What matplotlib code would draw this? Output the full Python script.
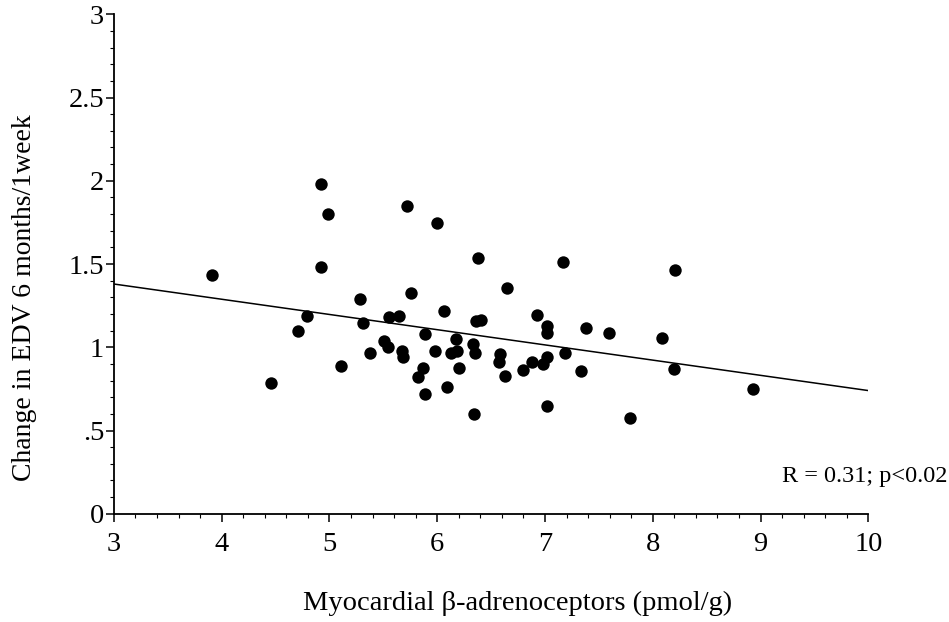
import matplotlib
matplotlib.use("Agg")
import matplotlib.pyplot as plt
from matplotlib.ticker import MultipleLocator, FixedLocator

plt.rcParams['font.family'] = ['Liberation Serif', 'DejaVu Serif']

# Data
receptors = [3.91, 4.92, 4.99, 5.72, 6.00, 6.38, 4.92, 5.28, 5.76, 6.06,
             4.79, 4.71, 5.31, 5.55, 5.65, 6.36, 6.41, 5.89, 6.17, 6.33,
             6.35, 5.51, 5.54, 5.38, 5.67, 5.68, 5.98, 6.13, 6.18, 5.11,
             5.87, 6.20, 5.82, 6.09, 5.89, 4.46, 6.34, 7.17, 8.21, 6.65,
             6.93, 7.02, 7.02, 7.38, 7.59, 8.09, 6.58, 6.57, 6.88, 7.02,
             6.98, 7.19, 6.80, 6.63, 7.33, 8.20, 7.02, 7.79, 8.93]
edv_change = [1.432, 1.978, 1.80, 1.846, 1.746, 1.536, 1.48, 1.288, 1.326, 1.218,
              1.188, 1.098, 1.144, 1.18, 1.186, 1.155, 1.165, 1.078, 1.052, 1.018,
              0.968, 1.038, 1.004, 0.968, 0.978, 0.942, 0.976, 0.968, 0.976, 0.89,
              0.874, 0.874, 0.82, 0.764, 0.718, 0.788, 0.60, 1.514, 1.466, 1.356,
              1.194, 1.128, 1.084, 1.116, 1.084, 1.056, 0.962, 0.912, 0.914, 0.94,
              0.898, 0.968, 0.866, 0.828, 0.86, 0.868, 0.648, 0.578, 0.75]

fit_x = [3, 10]
fit_y = [1.38, 0.74]

x_ticks = [3, 4, 5, 6, 7, 8, 9, 10]
y_ticks = [0, 0.5, 1, 1.5, 2, 2.5, 3]
y_tick_labels = ["0", ".5", "1", "1.5", "2", "2.5", "3"]

fig = plt.figure(figsize=(9.49, 6.22), dpi=100)
ax = fig.add_axes([0.120, 0.174, 0.795, 0.803])

ax.scatter(receptors, edv_change, s=80, color='black', zorder=3, linewidths=0)
ax.plot(fit_x, fit_y, color='black', lw=1.1)

ax.set_xlim(3, 10)
ax.set_ylim(0, 3)
ax.spines['top'].set_visible(False)
ax.spines['right'].set_visible(False)
ax.spines['left'].set_linewidth(1.3)
ax.spines['bottom'].set_linewidth(1.3)

ax.xaxis.set_major_locator(FixedLocator(x_ticks))
ax.xaxis.set_minor_locator(MultipleLocator(0.2))
ax.yaxis.set_major_locator(FixedLocator(y_ticks))
ax.set_yticklabels(y_tick_labels)
ax.yaxis.set_minor_locator(MultipleLocator(0.1))

ax.tick_params(axis='both', which='major', length=6, width=1.1, labelsize=20.5, direction='out')
ax.tick_params(axis='both', which='minor', length=3, width=0.8, direction='out')
ax.tick_params(axis='y', which='major', pad=1)
ax.tick_params(axis='x', which='major', pad=7)

fig.text(0.545, 0.030, "Myocardial β-adrenoceptors (pmol/g)", fontsize=20.5,
         ha='center', va='center')
fig.text(0.026, 0.522, "Change in EDV 6 months/1week", fontsize=20,
         ha='center', va='center', rotation=90)

ax.text(0.885, 0.064, "R = 0.31; p<0.02", transform=ax.transAxes, fontsize=17.5,
        ha='left', va='baseline', clip_on=False)

fig.savefig("out.png", dpi=100)
